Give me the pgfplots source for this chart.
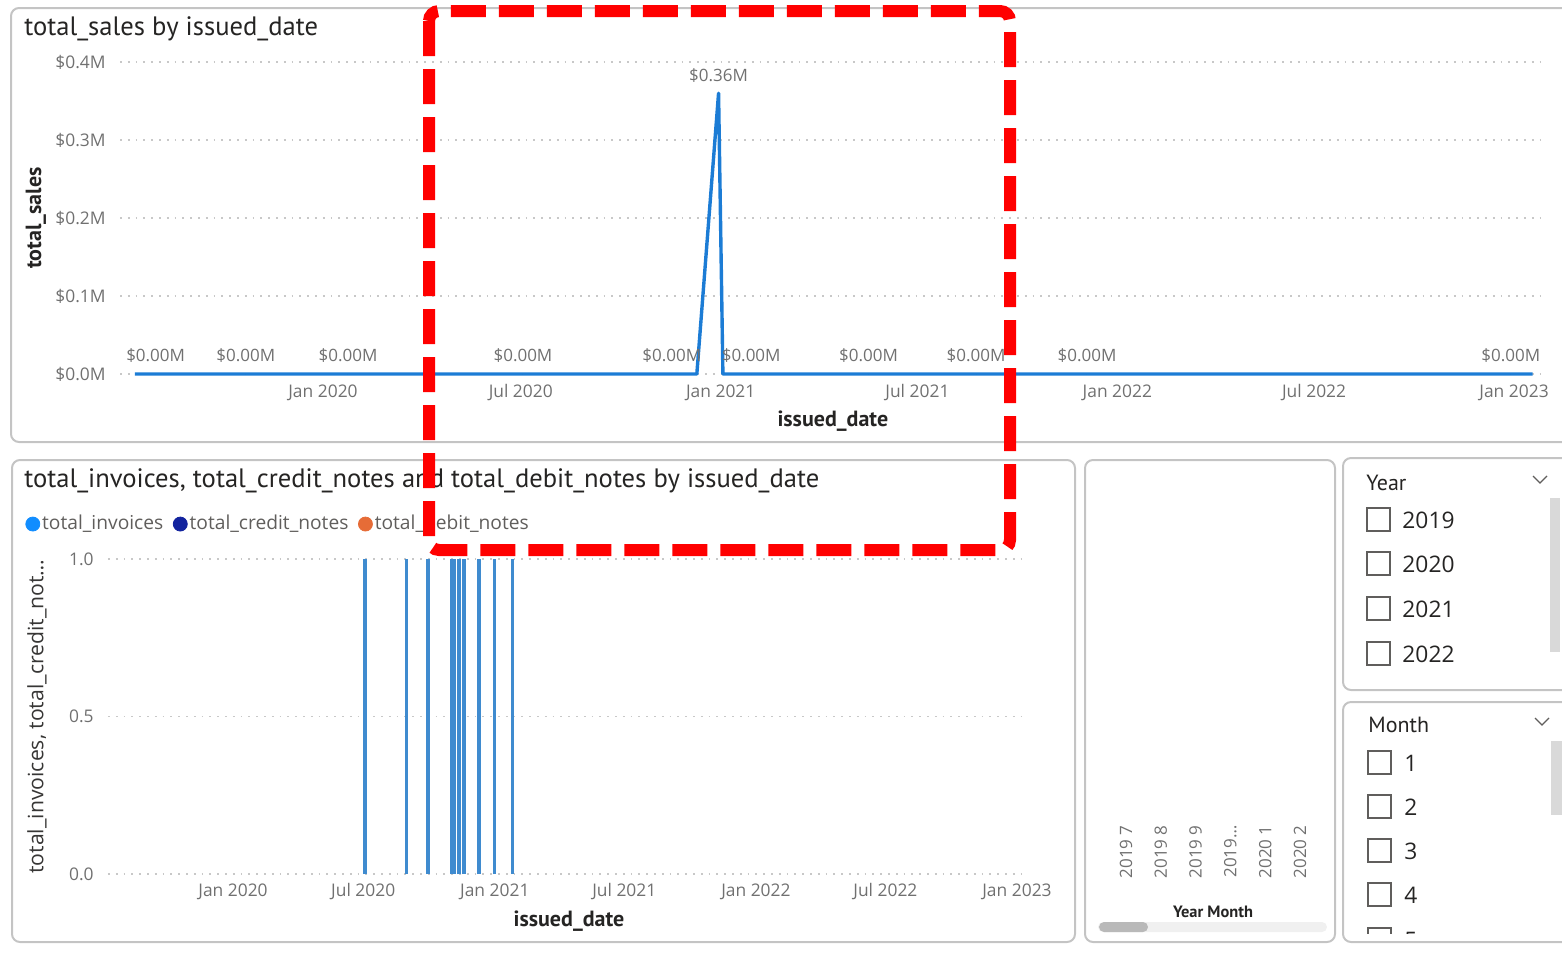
\documentclass[border=0pt]{standalone}
\usepackage{fontspec}
\setmainfont{Open Sans}
\newfontfamily\titlefont{PT Sans}
\usepackage{pgfplots}
\pgfplotsset{compat=1.18}
\definecolor{pbiblue}{HTML}{1C7CD5}
\definecolor{barblue}{HTML}{3F8BCF}
\definecolor{lgblue}{HTML}{118DFF}
\definecolor{lgnavy}{HTML}{12239E}
\definecolor{lgorange}{HTML}{E66C37}
\definecolor{tickgray}{HTML}{707070}
\definecolor{titlegray}{HTML}{252423}
\definecolor{panelgray}{HTML}{C4C4C4}
\definecolor{gridgray}{HTML}{C8C8C8}
\definecolor{boxgray}{HTML}{605E5C}
\newcommand\fs[1]{\fontsize{#1}{#1}\selectfont}
\pgfplotsset{pbi/.style={scale only axis, clip=false,
  axis line style={draw=none}, major tick length=0pt, tick style={draw=none},
  ymajorgrids, grid style={gridgray, line width=0.9pt, dash pattern=on 0.9pt off 3pt},
  ticklabel style={font=\fs{8.7}, text=tickgray},
  yticklabel style={anchor=east, inner sep=0pt, xshift=-7pt},
  xticklabel style={anchor=center, inner sep=0pt},
  xtick={0,182,366,547,731,912,1096},
  xticklabels={Jan 2020,Jul 2020,Jan 2021,Jul 2021,Jan 2022,Jul 2022,Jan 2023}}}
\begin{document}
\begin{tikzpicture}[x=0.5pt,y=-0.5pt]
\useasboundingbox (0,0) rectangle (1562,960);
\clip (0,0) rectangle (1562,960);
% panels
\draw[panelgray, line width=1pt, rounded corners=4pt] (11,8) rectangle (1590,442);
\draw[panelgray, line width=1pt, rounded corners=4pt] (12,460) rectangle (1075,942);
\draw[panelgray, line width=1pt, rounded corners=4pt] (1085,460) rectangle (1335,942);
\draw[panelgray, line width=1pt, rounded corners=4pt] (1343,458) rectangle (1590,690);
\draw[panelgray, line width=1pt, rounded corners=4pt] (1343,702) rectangle (1590,942);
% titles
\node[anchor=base west, inner sep=0pt, font=\titlefont\fs{13.3}, text=titlegray] at (24,35) {total\_sales by issued\_date};
\node[anchor=base west, inner sep=0pt, font=\titlefont\fs{13.3}, text=titlegray] at (24,487) {total\_invoices, total\_credit\_notes and total\_debit\_notes by issued\_date};
\coordinate (A) at (120,374);
\coordinate (B) at (108,874);
\coordinate (C) at (1108.6,822);
% top chart
\begin{axis}[pbi, at={(A)}, anchor=south west, width=710pt, height=156pt,
  xmin=-186.8, xmax=1119.9, ymin=0, ymax=0.4,
  ytick={0,0.1,0.2,0.3,0.4}, yticklabels={\$0.0M,\$0.1M,\$0.2M,\$0.3M,\$0.4M},
  xticklabel style={yshift=-9.5pt},
  xlabel={issued\_date}, ylabel={total\_sales},
  every axis x label/.style={at={(rel axis cs:0.502,-0.1506)}, anchor=center, font=\titlefont\bfseries\fs{11}, text=titlegray},
  every axis y label/.style={at={(rel axis cs:-0.0592,0.5)}, rotate=90, anchor=center, font=\titlefont\bfseries\fs{11}, text=titlegray}]
\addplot[pbiblue, line width=1.7pt, line join=round] coordinates {
 (-173,0) (-154,0) (-71,0) (23,0) (184,0) (321,0) (344,0) (364,0.36) (368,0)
 (394,0) (502,0) (601,0) (703,0) (1093,0) (1113,0)};
\addplot[only marks, mark=*, mark size=0pt, mark options={draw=none, fill=none},
  point meta=explicit symbolic, nodes near coords,
  nodes near coords style={font=\fs{8.5}, text=tickgray, anchor=center, yshift=9pt, inner sep=0pt}]
 coordinates {
 (-154,0) [\$0.00M] (-71,0) [\$0.00M] (23,0) [\$0.00M] (184,0) [\$0.00M]
 (321,0) [\$0.00M] (364,0.36) [\$0.36M] (394,0) [\$0.00M] (502,0) [\$0.00M]
 (601,0) [\$0.00M] (703,0) [\$0.00M] (1093,0) [\$0.00M]};
\end{axis}
% bottom chart
\begin{axis}[pbi, at={(B)}, anchor=south west, width=458.5pt, height=157.5pt,
  xmin=-174.8, xmax=1107.2, ymin=0, ymax=1,
  ytick={0,0.5,1}, yticklabels={0.0,0.5,1.0},
  xticklabel style={yshift=-9pt},
  xlabel={issued\_date}, ylabel={total\_invoices, total\_credit\_not…},
  every axis x label/.style={at={(rel axis cs:0.5027,-0.149)}, anchor=center, font=\titlefont\bfseries\fs{11}, text=titlegray},
  every axis y label/.style={at={(rel axis cs:-0.0774,0.5)}, rotate=90, anchor=center, font=\fs{10.6}, text=titlegray!92},
  legend columns=3,
  legend style={at={(rel axis cs:-0.0905,1.111)}, anchor=west, draw=none, fill=none,
    inner sep=0pt, font=\fs{9.6}, text=boxgray, nodes={inner sep=1pt},
    /tikz/every even column/.append style={column sep=3.8pt}}]
\addplot[ycomb, barblue, line width=1.6pt, forget plot] coordinates {
 (184.5,1) (243,1) (272.6,1) (306,1) (310,1) (316,1) (323,1) (344,1) (365,1) (391,1)};
\addlegendimage{legend image code/.code={\fill[lgblue] (3.5pt,0pt) circle[radius=3.5pt];}}
\addlegendentry{total\_invoices}
\addlegendimage{legend image code/.code={\fill[lgnavy] (3.5pt,0pt) circle[radius=3.5pt];}}
\addlegendentry{total\_credit\_notes}
\addlegendimage{legend image code/.code={\fill[lgorange] (3.5pt,0pt) circle[radius=3.5pt];}}
\addlegendentry{total\_debit\_notes}
\end{axis}
% Year Month visual
\begin{axis}[scale only axis, at={(C)}, anchor=south west, width=104.4pt, height=171pt,
  xmin=-0.5, xmax=5.5, ymin=0, ymax=1, clip=false,
  axis line style={draw=none}, major tick length=0pt, tick style={draw=none},
  ytick=\empty, xtick={0,1,2,3,4,5},
  xticklabels={2019 7,2019 8,2019 9,{2019…},2020 1,2020 2},
  xticklabel style={rotate=90, anchor=east, inner sep=1.5pt, font=\fs{8.5}, text=tickgray},
  xlabel={Year Month},
  every axis x label/.style={at={(rel axis cs:0.5,-0.263)}, anchor=center, font=\titlefont\bfseries\fs{8.2}, text=titlegray}]
\end{axis}
\fill[gray!12, rounded corners=2.5pt] (1098,922) rectangle (1327,932);
\fill[gray!55, rounded corners=2.5pt] (1099,922) rectangle (1148,932);
% Year slicer
\node[anchor=west, inner sep=0pt, font=\titlefont\fs{11}, text=titlegray] at (1366,483) {Year};
\draw[boxgray, line width=0.6pt] (1533,476) -- (1540,483) -- (1547,476);
\fill[gray!30] (1550,498) rectangle (1560,652);
\foreach \yy/\lab in {508/2019,552/2020,597/2021,642/2022}{
  \draw[boxgray, line width=0.8pt] (1367,\yy) rectangle +(23,23);
  \node[anchor=west, inner sep=0pt, font=\fs{11.4}, text=titlegray] at (1402,\yy+12) {\lab};}
% Month slicer
\node[anchor=west, inner sep=0pt, font=\titlefont\fs{11}, text=titlegray] at (1368,725) {Month};
\draw[boxgray, line width=0.6pt] (1535,718) -- (1542,725) -- (1549,718);
\fill[gray!30] (1551,741) rectangle (1562,815);
\foreach \yy/\lab in {751/1,795/2,839/3,883/4}{
  \draw[boxgray, line width=0.8pt] (1368,\yy) rectangle +(23,23);
  \node[anchor=west, inner sep=0pt, font=\fs{11.4}, text=titlegray] at (1404,\yy+12) {\lab};}
\begin{scope}
\clip (1340,920) rectangle (1562,933);
\draw[boxgray, line width=0.8pt] (1368,928) rectangle +(23,23);
\node[anchor=west, inner sep=0pt, font=\fs{11.4}, text=titlegray] at (1404,940) {5};
\end{scope}
% red dashed annotation
\draw[red, line width=6pt, dash pattern=on 17.5pt off 6.5pt, rounded corners=5pt] (429,11) rectangle (1010,550);
\end{tikzpicture}
\end{document}
